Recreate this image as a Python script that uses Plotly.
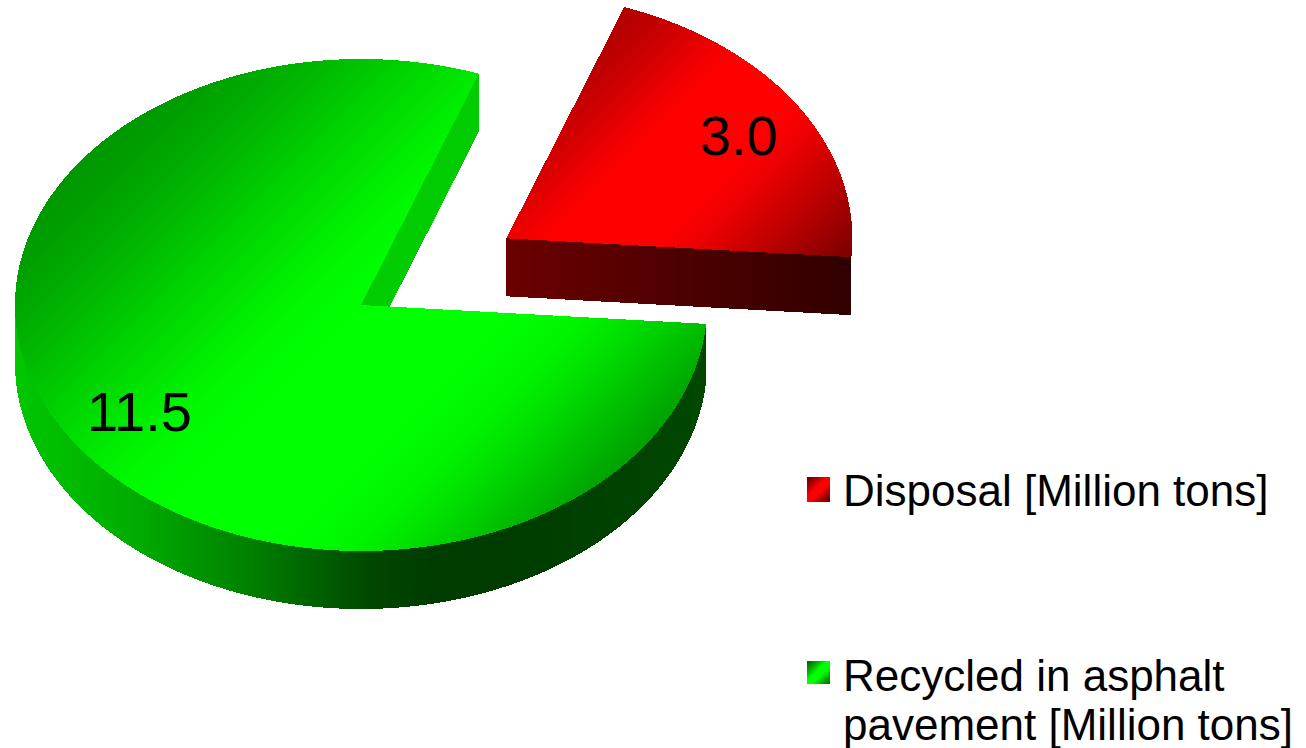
import numpy as np
import plotly.graph_objects as go

# ---- data ----
labels = ["Disposal [Million tons]", "Recycled in asphalt pavement [Million tons]"]
values = [3.0, 11.5]
value_text = ["3.0", "11.5"]

# ---- pie geometry (pixels of the picture) ----
W, H = 1306, 748
CX, CY, RX, RY, DEPTH = 361.0, 305.0, 346.0, 246.0, 58.0
START = -4.4
EXPLODE = 0.5

px = np.arange(W) + 0.5
py = np.arange(H) + 0.5
X, Y = np.meshgrid(px, py)


def band(c, xs, vs, w):
    """Smooth lighting curve along the diagonal coordinate c."""
    return np.mean([np.interp(c + d, xs, vs) for d in np.linspace(-w, w, 9)], axis=0)


def sector(cx, cy, a0, a1):
    u, v = (X - cx) / RX, -(Y - cy) / RY
    ang = np.degrees(np.arctan2(v, u))
    ang = np.mod(ang - a0, 360)
    return (u * u + v * v <= 1) & (ang <= (a1 - a0))


def wall(cx, cy, a):
    ex, ey = RX * np.cos(np.radians(a)), -RY * np.sin(np.radians(a))
    lo, hi = min(cx, cx + ex), max(cx, cx + ex)
    yl = cy + (X - cx) * ey / ex
    return (X >= lo) & (X <= hi) & (Y >= yl) & (Y <= yl + DEPTH)


def swatch(x0, y0, w, h):
    return (X >= x0) & (X <= x0 + w) & (Y >= y0) & (Y <= y0 + h)


angles = np.array(values) / sum(values) * 360
a_red0, a_red1 = START, START + angles[0]
a_green0, a_green1 = a_red1, START + 360
mid = np.radians((a_red0 + a_red1) / 2)
RCX = CX + EXPLODE * RX * np.cos(mid)
RCY = CY - EXPLODE * RY * np.sin(mid)

diag = X + Y

# ---- green slice ----
zg = np.full(X.shape, np.nan, dtype=np.float32)
w_g = wall(CX, CY, a_green0)
zg[w_g] = 0.80
u = (X - CX) / RX
inside = np.abs(u) <= 1
ylow = CY + RY * np.sqrt(np.clip(1 - u * u, 0, 1))
xright = CX + RX * np.cos(np.radians(START))
rim = inside & (Y >= ylow - 1) & (Y <= ylow + DEPTH) & (X <= xright)
rim_xs = [14, 140, 256, 372, 430, 510, 706]
rim_vs = [0.78, 0.67, 0.49, 0.28, 0.235, 0.235, 0.28]
zg[rim] = np.interp(X[rim], rim_xs, rim_vs)
top_g = sector(CX, CY, a_green0, a_green1)
zg[top_g] = band(diag[top_g],
                 [100, 270, 350, 500, 620, 880, 1000, 1100, 1256],
                 [0.52, 0.60, 0.68, 0.86, 1.0, 1.0, 0.80, 0.60, 0.45], 60)

# ---- red slice ----
zr = np.full(X.shape, np.nan, dtype=np.float32)
w_r = wall(RCX, RCY, a_red0)
zr[w_r] = np.interp(X[w_r], [RCX, RCX + RX], [0.42, 0.19])
top_r = sector(RCX, RCY, a_red0, a_red1)
zr[top_r] = band(diag[top_r], [633, 700, 780, 910, 1000, 1110], [0.68, 0.80, 1.0, 1.0, 0.78, 0.47], 30)

# ---- legend swatches ----
sw_c = [0, 12, 20, 28, 36, 48]
sw_v = [0.35, 0.7, 1.0, 1.0, 0.7, 0.35]
s_r = swatch(807, 477, 23, 25)
zr[s_r] = np.interp(diag[s_r] - (807 + 477), sw_c, sw_v)
s_g = swatch(807, 661, 23, 23)
zg[s_g] = np.interp(diag[s_g] - (807 + 661), sw_c, sw_v)

fig = go.Figure()
fig.add_trace(go.Heatmap(x=px, y=py, z=zg, name=labels[1], zmin=0, zmax=1, showscale=False,
                         colorscale=[[0, "rgb(0,0,0)"], [1, "rgb(0,255,0)"]], hoverinfo="skip"))
fig.add_trace(go.Heatmap(x=px, y=py, z=zr, name=labels[0], zmin=0, zmax=1, showscale=False,
                         colorscale=[[0, "rgb(0,0,0)"], [1, "rgb(255,0,0)"]], hoverinfo="skip"))

FONT = "Liberation Sans, Arial, sans-serif"


def text(x, y, s, size, anchor="left"):
    fig.add_annotation(x=x, y=y, xref="x", yref="y", text=s, showarrow=False, xanchor=anchor,
                       yanchor="middle", font=dict(family=FONT, size=size, color="black"),
                       borderpad=0, borderwidth=0)


text(739, 135, value_text[0], 56, "center")
text(139, 411, value_text[1], 56, "center")
text(843, 490, labels[0], 44)
text(843, 675, "Recycled in asphalt", 44)
text(843, 724, "pavement [Million tons]", 44)

fig.update_layout(
    width=W, height=H, margin=dict(l=0, r=0, t=0, b=0),
    paper_bgcolor="white", plot_bgcolor="white", showlegend=False,
    xaxis=dict(range=[0, W], visible=False, fixedrange=True),
    yaxis=dict(range=[H, 0], visible=False, fixedrange=True),
)
fig.write_html("out.html", config={"displayModeBar": False},
               default_width=f"{W}px", default_height=f"{H}px",
               post_script="document.body.style.margin='0';document.documentElement.style.overflow='hidden';")
